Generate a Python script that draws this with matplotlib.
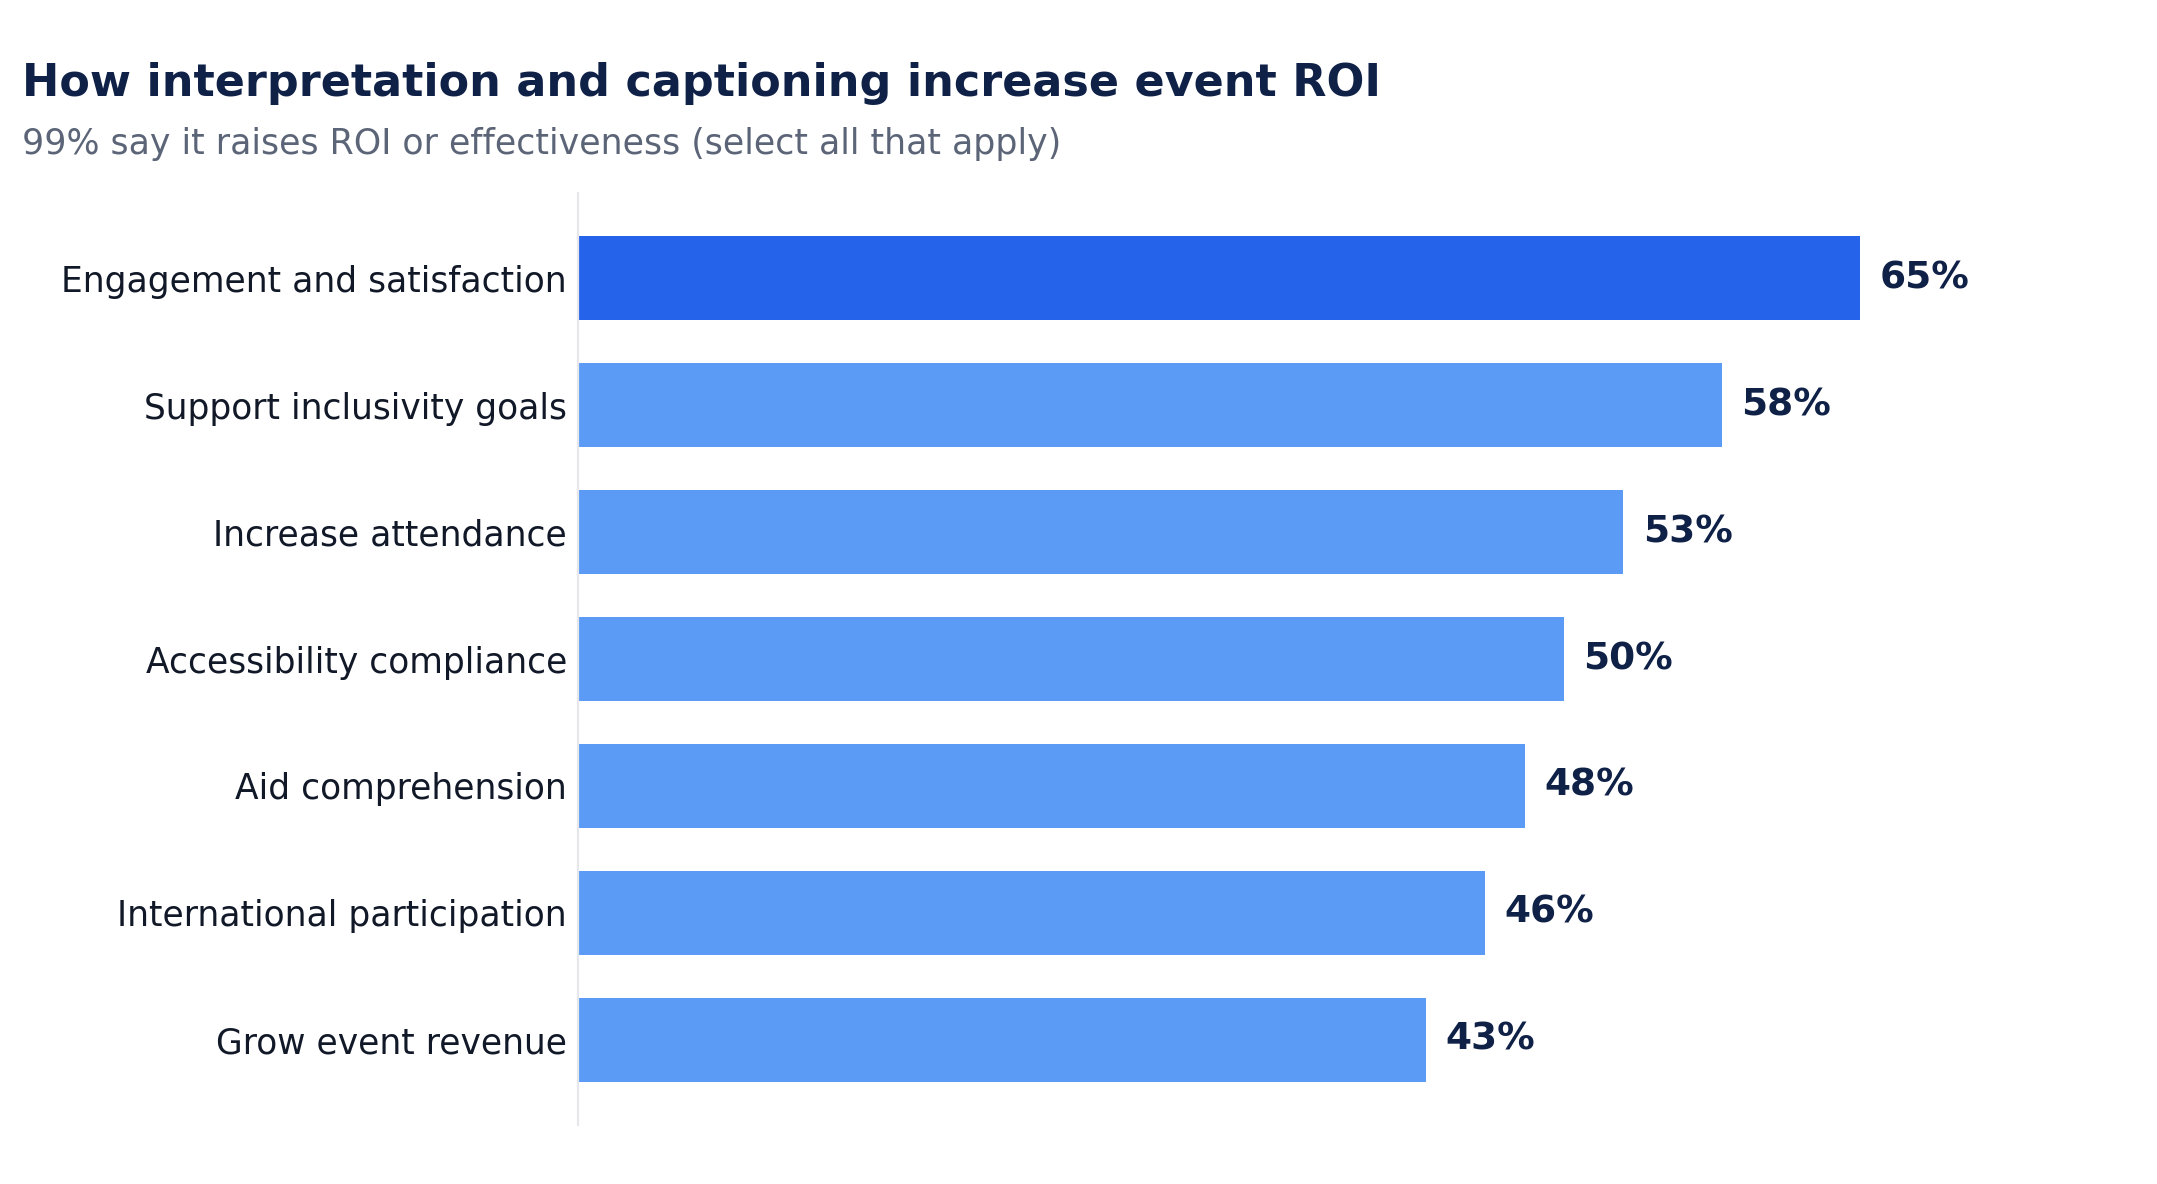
import matplotlib
matplotlib.use('Agg')
import matplotlib.pyplot as plt

categories = [
  'Engagement and satisfaction',
  'Support inclusivity goals',
  'Increase attendance',
  'Accessibility compliance',
  'Aid comprehension',
  'International participation',
  'Grow event revenue',
]
values = [65, 58, 53, 50, 48, 46, 43]
value_labels = ['65%', '58%', '53%', '50%', '48%', '46%', '43%']

title = 'How interpretation and captioning increase event ROI'
subtitle = '99% say it raises ROI or effectiveness (select all that apply)'

NAVY = '#0F2147'
HIGHLIGHT = '#2563EB'
BASE = '#5B9AF5'

plt.rcParams['font.family'] = ['DejaVu Sans']

fig = plt.figure(figsize=(10.785, 5.92), dpi=200)
ax = fig.add_axes([0.268, 0.0498, 0.9537 - 0.268, 0.837 - 0.0498])

ypos = list(range(len(categories)))
colors = [HIGHLIGHT if i == 0 else BASE for i in ypos]
ax.barh(ypos, values, height=0.66, color=colors, zorder=2)

for y, v, lab in zip(ypos, values, value_labels):
  ax.annotate(lab, xy=(v, y), xytext=(7, 0), textcoords='offset points',
              va='center', ha='left', fontsize=13.5, fontweight='bold', color=NAVY)

ax.set_xlim(0, 75)
ax.set_ylim(len(categories) - 0.33, -0.67)
ax.set_yticks(ypos)
ax.set_yticklabels(categories, fontsize=12.45, color='#111827')
ax.tick_params(axis='y', length=0, pad=4)
ax.set_xticks([])

for side in ['top', 'right', 'bottom']:
  ax.spines[side].set_visible(False)
ax.spines['left'].set_color('#E5E7EB')
ax.spines['left'].set_linewidth(0.8)

fig.text(0.0102, 0.919, title, fontsize=16, fontweight='bold', color=NAVY, ha='left', va='baseline')
fig.text(0.0102, 0.870, subtitle, fontsize=12.5, color='#5B6577', ha='left', va='baseline')

fig.savefig('out.png', dpi=200, facecolor='white')
